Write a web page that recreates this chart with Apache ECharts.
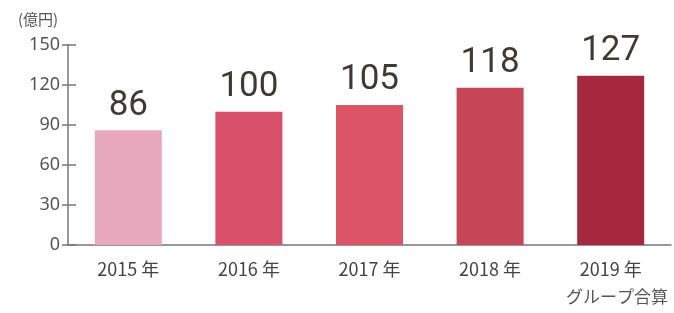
<!DOCTYPE html>
<html>
<head>
<meta charset="utf-8">
<script src="https://cdn.jsdelivr.net/npm/echarts@6/dist/echarts.min.js"></script>
<style>
html, body { margin: 0; padding: 0; background: #fff; }
#main { width: 674px; height: 313px; }
</style>
</head>
<body>
<div id="main"></div>
<script>
// データ
var years = ['2015 年', '2016 年', '2017 年', '2018 年', '2019 年'];
var sales = [86, 100, 105, 118, 127];
var barColors = ['#e7a8bd', '#d8506a', '#dc5566', '#c64658', '#a5283e'];

var myChart = echarts.init(document.getElementById('main'));

var barData = [];
for (var i = 0; i < sales.length; i++) {
	barData.push({ value: sales[i], itemStyle: { color: barColors[i] } });
}

var axisColor = '#777';

option = {
	animation : false,
	title : [ {
		text : '(億円)',
		left : 13,
		top : 7,
		textStyle : { fontSize : 15, fontWeight : 'normal', color : '#555', fontFamily : 'Noto Sans CJK JP' }
	}, {
		text : 'グループ合算',
		right : 1,
		top : 283,
		textStyle : { fontSize : 17, fontWeight : 'normal', color : '#555', fontFamily : 'Noto Sans CJK JP' }
	} ],
	grid : { left : 68, right : 3, top : 45, bottom : 68 },
	xAxis : {
		type : 'category',
		data : years,
		axisLine : { lineStyle : { color : axisColor, width : 1.5 } },
		axisTick : { inside : true, length : 4, lineStyle : { color : axisColor } },
		axisLabel : { fontSize : 18, color : '#444', margin : 15, fontFamily : 'Noto Sans CJK JP' }
	},
	yAxis : [ {
		type : 'value',
		min : 0,
		max : 150,
		interval : 30,
		splitLine : { show : false },
		axisLine : { show : true, lineStyle : { color : axisColor, width : 1.5 } },
		axisTick : { show : true, length : 6, lineStyle : { color : axisColor, width : 1.5 } },
		axisLabel : { fontSize : 18, color : '#555', margin : 8, fontFamily : 'Noto Sans' }
	}, {
		type : 'value',
		min : 0,
		max : 150,
		interval : 30,
		position : 'left',
		splitLine : { show : false },
		axisLine : { show : false },
		axisTick : { show : true, inside : true, length : 8, lineStyle : { color : axisColor, width : 1.5 } },
		axisLabel : { show : false }
	} ],
	series : [ {
		type : 'bar',
		barWidth : 67,
		data : barData,
		label : {
			show : true,
			position : 'top',
			distance : 7,
			fontSize : 35,
			color : '#3f3a36',
			fontFamily : 'Roboto, sans-serif'
		}
	} ]
};
myChart.setOption(option);
</script>
</body>
</html>
